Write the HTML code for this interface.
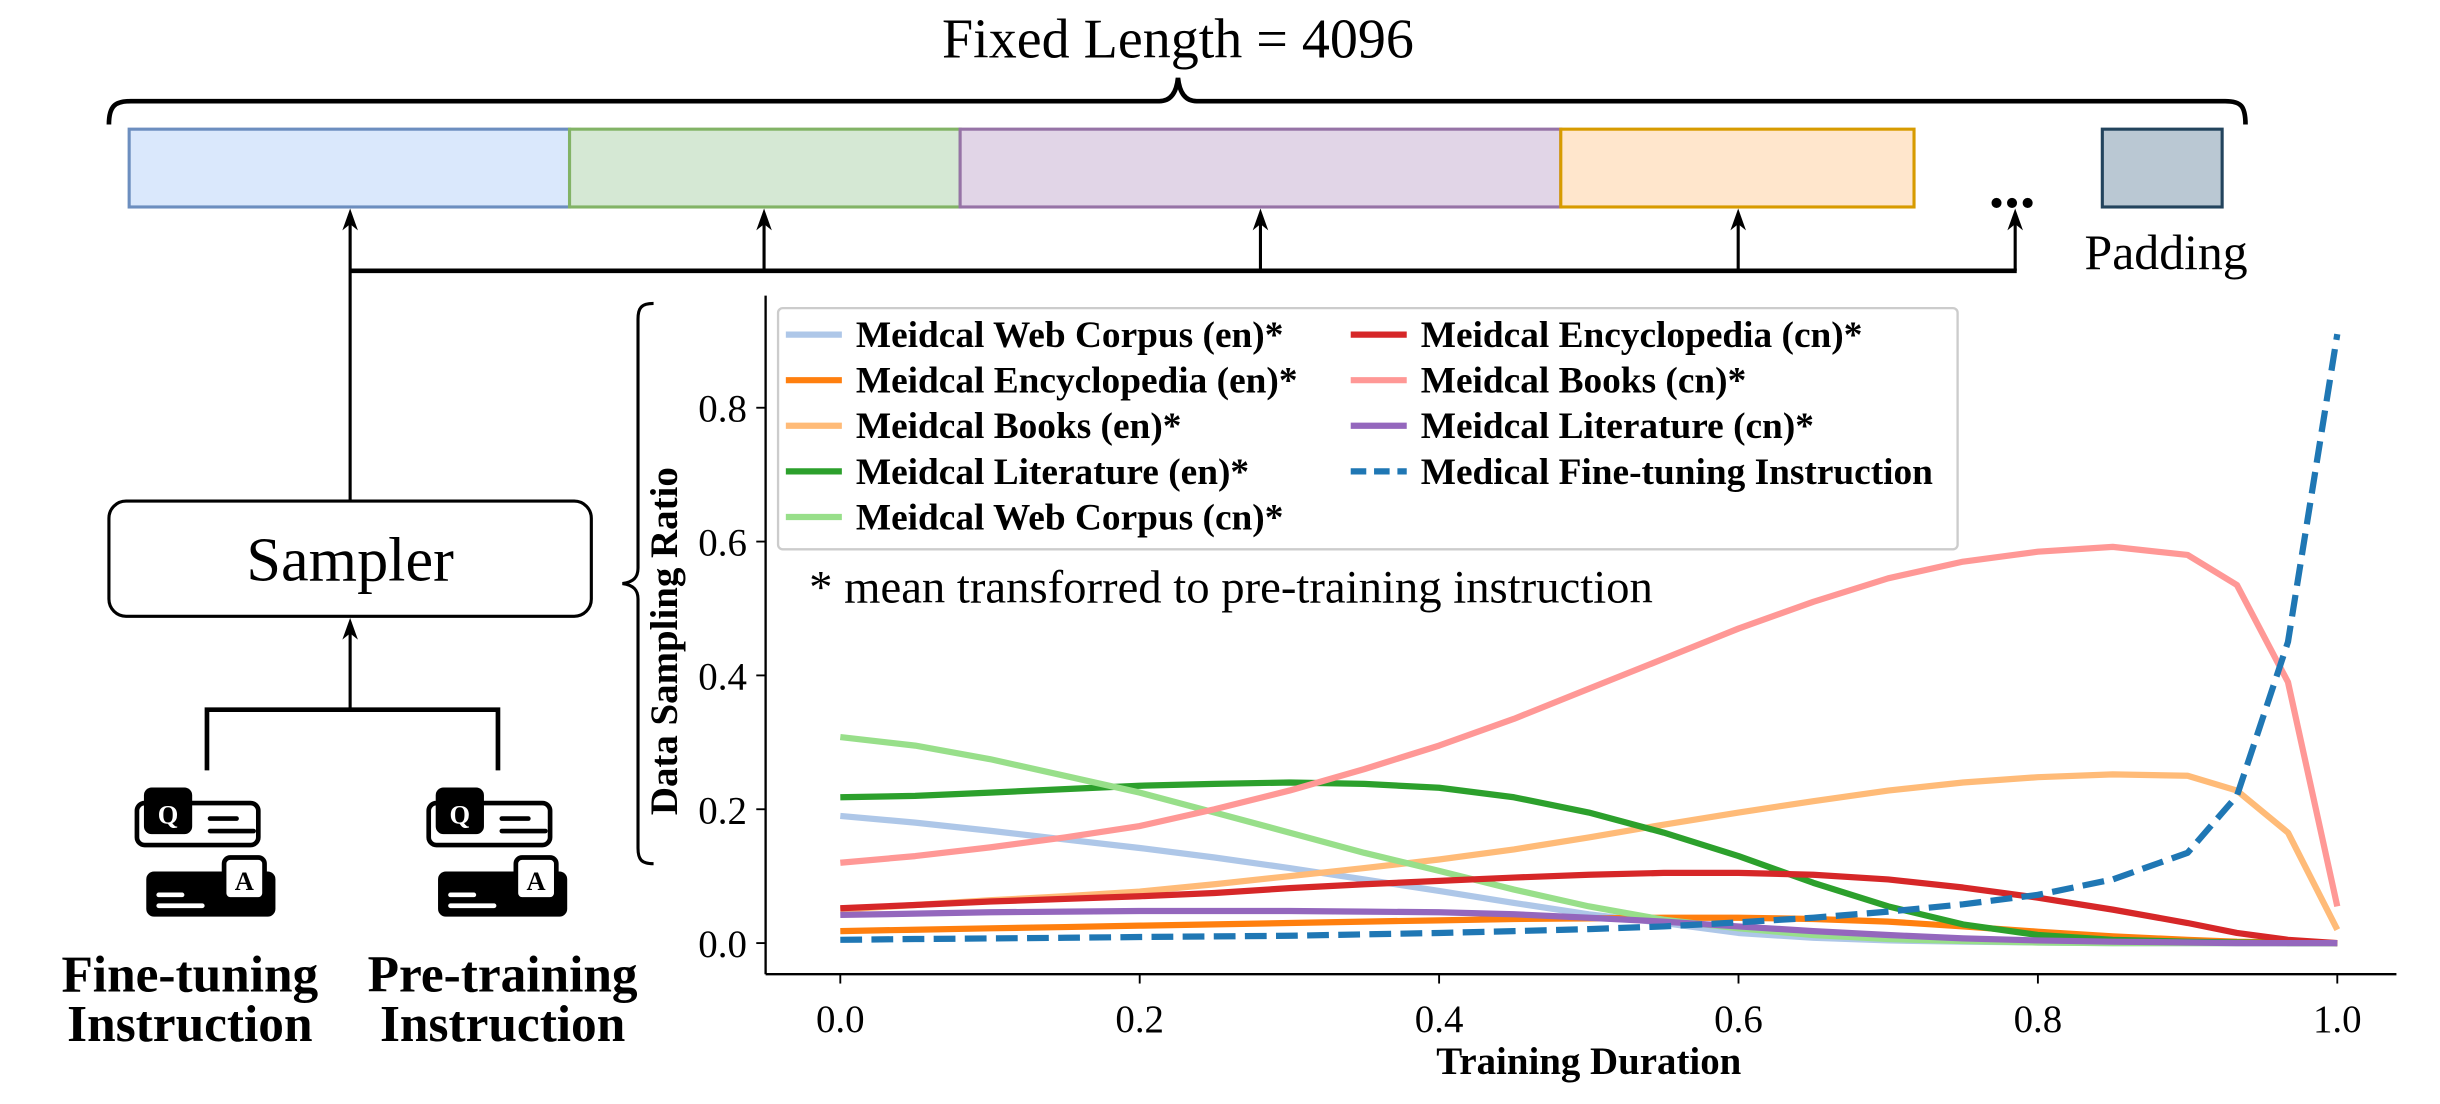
<!DOCTYPE html>
<html><head><meta charset="utf-8"><style>
html,body{margin:0;padding:0;background:#fff}
svg{display:block}
text{font-family:"Liberation Serif",serif}
</style></head><body>
<svg id="fig" width="2440" height="1104" viewBox="0 0 1568 709.4" preserveAspectRatio="none" xmlns="http://www.w3.org/2000/svg">
<g>
<text x="757" y="37" font-size="36" text-anchor="middle">Fixed Length = 4096</text>
<path d="M70,80 C70,68 74,65 84,65 L745,65 C752,65 756,60 757,50 C758,60 762,65 769,65 L1430,65 C1440,65 1443,68 1443,80" fill="none" stroke="#000" stroke-width="3"/>
<rect x="83" y="83" width="283" height="50" fill="#dae8fc" stroke="#6c8ebf" stroke-width="2"/>
<rect x="366" y="83" width="251" height="50" fill="#d5e8d4" stroke="#82b366" stroke-width="2"/>
<rect x="617" y="83" width="386" height="50" fill="#e1d5e7" stroke="#9673a6" stroke-width="2"/>
<rect x="1003" y="83" width="227" height="50" fill="#ffe6cc" stroke="#d79b00" stroke-width="2"/>
<rect x="1351" y="83" width="77" height="50" fill="#bac8d3" stroke="#23445d" stroke-width="2"/>
<text x="1293" y="133" font-size="40" font-weight="bold" text-anchor="middle">...</text>
<text x="1392" y="173" font-size="32" text-anchor="middle">Padding</text>
<g stroke="#000" stroke-width="2" fill="none">
<line x1="225" y1="174" x2="1296" y2="174" stroke-width="3"/>
<line x1="225" y1="322" x2="225" y2="138"/>
<line x1="491" y1="174" x2="491" y2="138"/>
<line x1="810" y1="174" x2="810" y2="138"/>
<line x1="1117" y1="174" x2="1117" y2="138"/>
<line x1="1295" y1="174" x2="1295" y2="138"/>
<line x1="225" y1="456" x2="225" y2="400"/>
<path d="M133,495 V456 H320 V495" stroke-width="3"/>
</g>
<g fill="#000">
<path d="M225,134 l-5,14 l5,-4 l5,4z"/><path d="M491,134 l-5,14 l5,-4 l5,4z"/><path d="M810,134 l-5,14 l5,-4 l5,4z"/><path d="M1117,134 l-5,14 l5,-4 l5,4z"/><path d="M1295,134 l-5,14 l5,-4 l5,4z"/><path d="M225,397 l-5,14 l5,-4 l5,4z"/>
</g>
<rect x="70" y="322" width="310" height="74" rx="11" fill="#fff" stroke="#000" stroke-width="2"/>
<text x="225" y="373" font-size="40" text-anchor="middle">Sampler</text>
<g id="icon1">
<rect x="88" y="516" width="78" height="27" rx="5" fill="#fff" stroke="#000" stroke-width="3"/>
<rect x="92.5" y="506" width="31" height="30" rx="5" fill="#000"/>
<text x="108" y="529" font-size="17" font-weight="bold" fill="#fff" text-anchor="middle" font-family="Liberation Sans,sans-serif">Q</text>
<line x1="135" y1="526" x2="152" y2="526" stroke="#000" stroke-width="3" stroke-linecap="round"/>
<line x1="135" y1="534" x2="163" y2="534" stroke="#000" stroke-width="3" stroke-linecap="round"/>
<rect x="94" y="560" width="83" height="29" rx="5" fill="#000"/>
<rect x="144" y="551" width="26" height="27" rx="4" fill="#fff" stroke="#000" stroke-width="3"/>
<text x="157" y="572" font-size="17" font-weight="bold" text-anchor="middle" font-family="Liberation Sans,sans-serif">A</text>
<line x1="102" y1="575" x2="117" y2="575" stroke="#fff" stroke-width="3" stroke-linecap="round"/>
<line x1="102" y1="582" x2="130" y2="582" stroke="#fff" stroke-width="3" stroke-linecap="round"/>
</g>
<g transform="translate(187.5,0)">
<rect x="88" y="516" width="78" height="27" rx="5" fill="#fff" stroke="#000" stroke-width="3"/>
<rect x="92.5" y="506" width="31" height="30" rx="5" fill="#000"/>
<text x="108" y="529" font-size="17" font-weight="bold" fill="#fff" text-anchor="middle" font-family="Liberation Sans,sans-serif">Q</text>
<line x1="135" y1="526" x2="152" y2="526" stroke="#000" stroke-width="3" stroke-linecap="round"/>
<line x1="135" y1="534" x2="163" y2="534" stroke="#000" stroke-width="3" stroke-linecap="round"/>
<rect x="94" y="560" width="83" height="29" rx="5" fill="#000"/>
<rect x="144" y="551" width="26" height="27" rx="4" fill="#fff" stroke="#000" stroke-width="3"/>
<text x="157" y="572" font-size="17" font-weight="bold" text-anchor="middle" font-family="Liberation Sans,sans-serif">A</text>
<line x1="102" y1="575" x2="117" y2="575" stroke="#fff" stroke-width="3" stroke-linecap="round"/>
<line x1="102" y1="582" x2="130" y2="582" stroke="#fff" stroke-width="3" stroke-linecap="round"/>
</g>
<g font-size="33" font-weight="bold" text-anchor="middle">
<text x="122" y="637">Fine-tuning</text>
<text x="122" y="669">Instruction</text>
<text x="323" y="637">Pre-training</text>
<text x="323" y="669">Instruction</text>
</g>
<path d="M420,195 C412,195 410,198 410,205 L410,365 C410,371 407,374 400,375 C407,376 410,379 410,385 L410,545 C410,552 412,555 420,555" fill="none" stroke="#000" stroke-width="2"/>
</g>
<g id="chart"></g>
</svg>
<script>
const xs = [0,.05,.1,.15,.2,.25,.3,.35,.4,.45,.5,.55,.6,.65,.7,.75,.8,.85,.9,.933,.967,1];
const webEn = [0.19,0.18,0.168,0.155,0.142,0.128,0.112,0.095,0.078,0.06,0.043,0.03,0.015,0.008,0.004,0.002,0.001,0,0,0,0,0];
const encEn = [0.018,0.02,0.022,0.024,0.026,0.028,0.03,0.032,0.034,0.036,0.037,0.038,0.038,0.036,0.032,0.025,0.017,0.01,0.005,0.002,0.001,0];
const booksEn = [0.05,0.057,0.064,0.07,0.077,0.088,0.1,0.112,0.125,0.14,0.158,0.177,0.195,0.212,0.228,0.24,0.248,0.252,0.25,0.228,0.165,0.02];
const litEn = [0.218,0.22,0.225,0.23,0.235,0.238,0.24,0.238,0.232,0.218,0.195,0.165,0.13,0.09,0.055,0.028,0.012,0.005,0.002,0.001,0,0];
const webCn = [0.308,0.295,0.275,0.25,0.225,0.195,0.165,0.135,0.108,0.08,0.055,0.035,0.022,0.012,0.006,0.003,0.001,0,0,0,0,0];
const encCn = [0.052,0.057,0.062,0.066,0.07,0.075,0.082,0.088,0.093,0.098,0.102,0.105,0.105,0.102,0.095,0.083,0.068,0.05,0.03,0.015,0.005,0];
const booksCn = [0.12,0.13,0.143,0.158,0.175,0.2,0.228,0.26,0.295,0.335,0.38,0.425,0.47,0.51,0.545,0.57,0.585,0.592,0.58,0.535,0.39,0.055];
const litCn = [0.042,0.044,0.046,0.047,0.048,0.048,0.048,0.047,0.046,0.043,0.038,0.032,0.025,0.018,0.012,0.007,0.004,0.002,0.001,0,0,0];
const fineTune = [0.005,0.006,0.007,0.008,0.009,0.01,0.011,0.013,0.015,0.018,0.021,0.025,0.031,0.038,0.047,0.058,0.072,0.095,0.135,0.22,0.45,0.91];
const xTicks = [0,0.2,0.4,0.6,0.8,1.0];
const xTickLabels = ["0.0","0.2","0.4","0.6","0.8","1.0"];
const yTicks = [0,0.2,0.4,0.6,0.8];
const yTickLabels = ["0.0","0.2","0.4","0.6","0.8"];
const seriesNames = ["Meidcal Web Corpus (en)*","Meidcal Encyclopedia (en)*","Meidcal Books (en)*","Meidcal Literature (en)*","Meidcal Web Corpus (cn)*","Meidcal Encyclopedia (cn)*","Meidcal Books (cn)*","Meidcal Literature (cn)*","Medical Fine-tuning Instruction"];
const seriesData = [webEn,encEn,booksEn,litEn,webCn,encCn,booksCn,litCn,fineTune];
const seriesColors = ["#aec7e8","#ff7f0e","#ffbb78","#2ca02c","#98df8a","#d62728","#ff9896","#9467bd","#1f77b4"];

const NS = "http://www.w3.org/2000/svg";
const g = document.getElementById('chart');
function X(v){return 540 + v*962;}
function Y(v){return 606 - v*430;}
function el(tag, attrs, parent){const e=document.createElementNS(NS,tag);for(const k in attrs)e.setAttribute(k,attrs[k]);(parent||g).appendChild(e);return e;}

let a = el('line',{x1:492,y1:626,x2:1540,y2:626,stroke:'#000','stroke-width':1.5});


a = el('line',{x1:492,y1:190,x2:492,y2:626,stroke:'#000','stroke-width':1.5});


xTicks.forEach((t,i)=>{
  const l = el('line',{x1:X(t),y1:626,x2:X(t),y2:632,stroke:'#000','stroke-width':1.2});
  
  
  const tx = el('text',{x:X(t),y:663,'font-size':25,'text-anchor':'middle'});
  tx.textContent = xTickLabels[i];
  
  
});
yTicks.forEach((t,i)=>{
  const l = el('line',{x1:486,y1:Y(t),x2:492,y2:Y(t),stroke:'#000','stroke-width':1.2});
  
  
  const tx = el('text',{x:480,y:Y(t)+9,'font-size':25,'text-anchor':'end'});
  tx.textContent = yTickLabels[i];
  
  
});
let t = el('text',{x:1021,y:690,'font-size':25,'font-weight':'bold','text-anchor':'middle'});
t.textContent='Training Duration';


t = el('text',{x:0,y:0,'font-size':25,'font-weight':'bold','text-anchor':'middle',transform:'translate(435,412) rotate(-90)'});
t.textContent='Data Sampling Ratio';



seriesData.forEach((d,i)=>{
  const pts = d.map((v,j)=>X(xs[j]).toFixed(1)+','+Y(v).toFixed(1)).join(' ');
  const attrs = {points:pts,fill:'none',stroke:seriesColors[i],'stroke-width':4,'stroke-linejoin':'round'};
  if(i===8){attrs['stroke-dasharray']='14,6';}
  const p = el('polyline',attrs);
  
  
});

const lg = el('g',{});


el('rect',{x:500,y:198,width:758,height:155,rx:3,fill:'#fff','fill-opacity':0.85,stroke:'#ccc','stroke-width':1.5},lg);
seriesNames.forEach((n,i)=>{
  const col = i<5?0:1, row = i<5?i:i-5;
  const lx = col?868:505, ly = 215+row*29.3;
  const e = el('g',{},lg);
  
  
  const la = {x1:lx,y1:ly,x2:lx+36,y2:ly,stroke:seriesColors[i],'stroke-width':4};
  if(i===8) la['stroke-dasharray']='10,5';
  el('line',la,e);
  const tx = el('text',{x:lx+45,y:ly+8,'font-size':24,'font-weight':'bold'},e);
  tx.textContent = n;
});
t = el('text',{x:520,y:387,'font-size':30});
t.textContent='* mean transforred to pre-training instruction';


</script>
</body></html>
